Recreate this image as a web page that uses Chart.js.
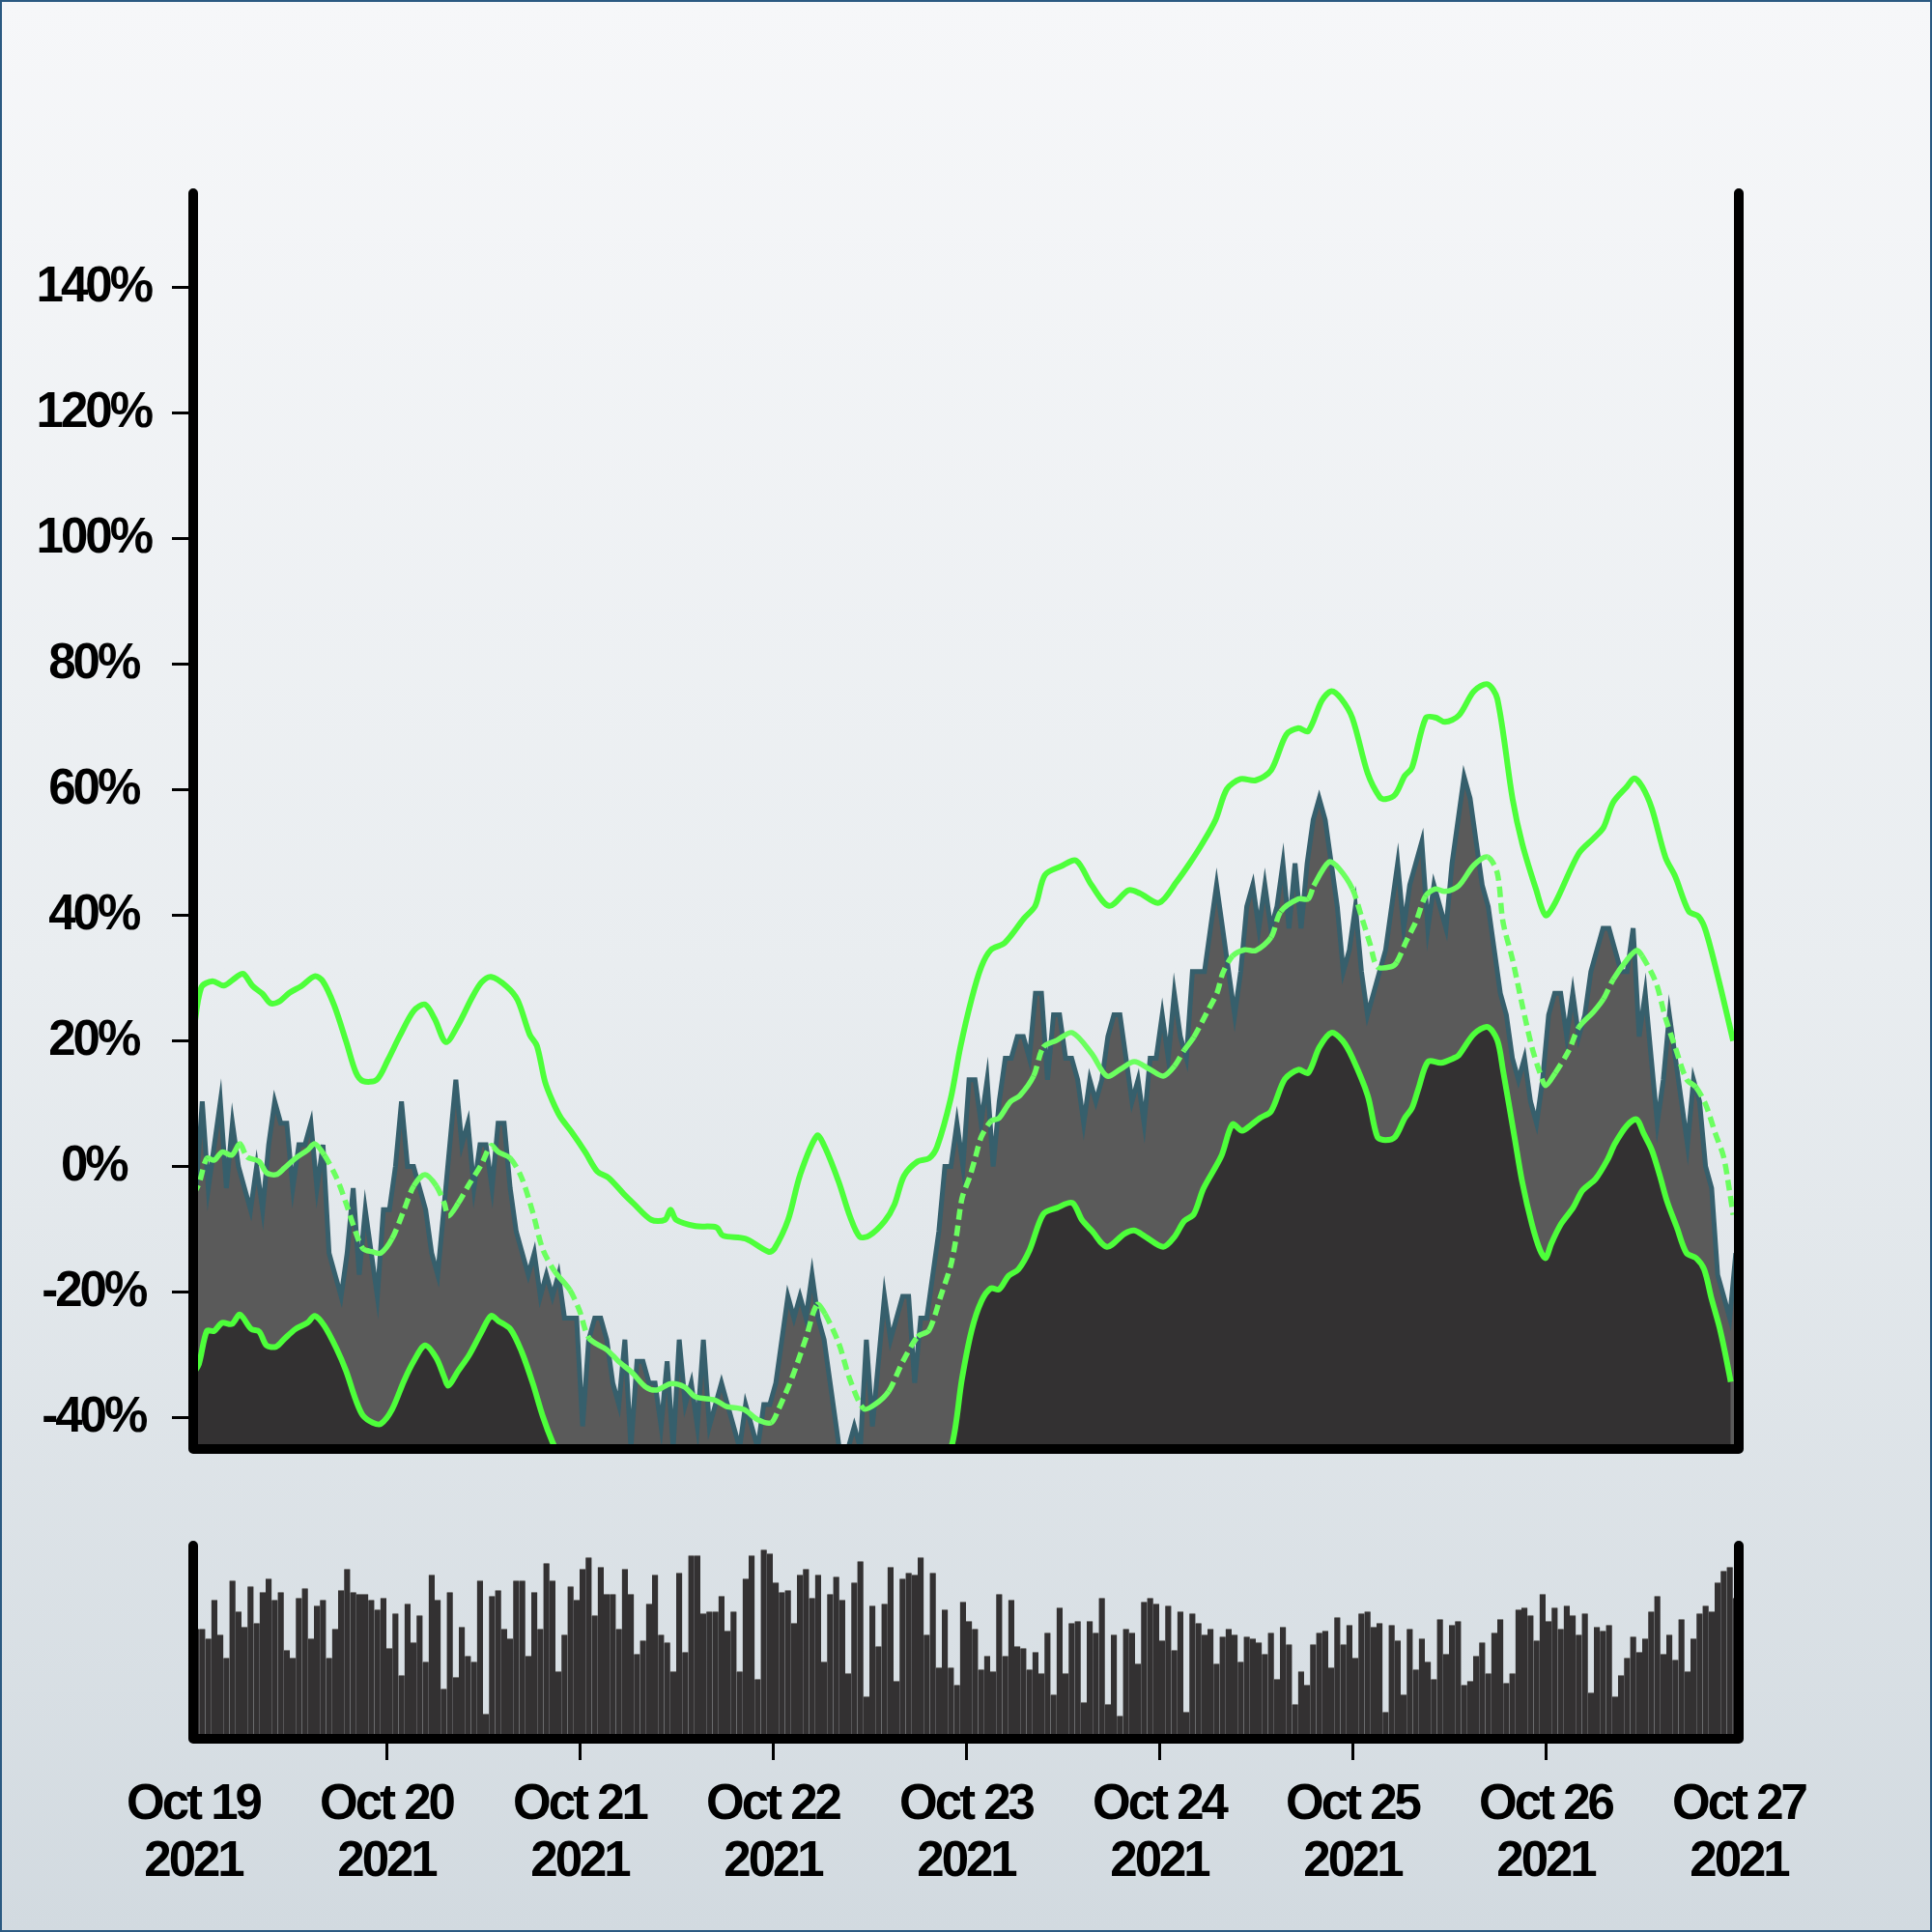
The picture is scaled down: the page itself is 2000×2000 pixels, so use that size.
<!DOCTYPE html>
<html>
<head>
<meta charset="utf-8">
<script src="https://cdn.jsdelivr.net/npm/chart.js@4/dist/chart.umd.min.js"></script>
<style>
  html, body { margin: 0; padding: 0; }
  #page { position: relative; width: 2000px; height: 2000px; overflow: hidden;
          background: linear-gradient(to bottom, #f6f7f9 0%, #e9edf0 50%, #d2dae0 100%); }
  #main { position: absolute; left: 0; top: 0; }
  #vol { position: absolute; left: 0; top: 1500px; }
  #edge { position: absolute; left: 0; top: 0; width: 2000px; height: 2000px; box-sizing: border-box;
          border: 2px solid #2b5a82; pointer-events: none; }
</style>
</head>
<body>
<div id="page">
  <canvas id="main" width="2000" height="1600"></canvas>
  <canvas id="vol" width="2000" height="500"></canvas>
  <div id="edge"></div>
</div>
<script>
// ---------- data ----------
const dayLabels = ['Oct 19','Oct 20','Oct 21','Oct 22','Oct 23','Oct 24','Oct 25','Oct 26','Oct 27'];
const yearLabels = ['2021','2021','2021','2021','2021','2021','2021','2021','2021'];
const dayTickHours = [0, 24, 48, 72, 96, 120, 144, 168, 192];
const yTickValues = [-40, -20, 0, 20, 40, 60, 80, 100, 120, 140];

// series sampled every 45 minutes from Oct 19 2021 00:00 (hours, cell centres)
const firstHour = 0.375;
const stepHours = 0.75;
const basePrice = 29;   // comparison base, values shown as % change

const price = [
  28,32,28,30,32,28,31,29,28,27,29,27,30,32,31,31,
  28,30,30,31,28,30,25,24,23,25,28,24,27,25,23,27,
  27,29,32,29,29,28,27,25,24,27,30,33,30,31,28,30,
  30,28,31,31,28,26,25,24,25,23,24,23,24,22,22,22,
  17,21,22,22,21,19,18,21,16,20,20,19,19,17,20,16,
  21,18,19,17,21,17,18,19,18,17,16,18,17,16,18,18,
  19,21,23,22,23,22,24,22,21,19,17,15,16,17,16,21,
  17,20,23,21,22,23,23,19,22,22,24,26,29,29,31,29,
  33,33,31,33,29,32,34,34,35,35,34,37,37,33,36,36,
  34,34,33,31,33,32,33,35,36,36,34,32,33,31,34,34,
  36,34,37,35,34,38,38,38,40,42,40,38,36,38,41,42,
  40,42,40,41,43,40,43,40,43,45,46,45,43,41,38,39,
  41,38,36,37,38,39,41,43,40,42,43,44,40,42,41,40,
  43,45,47,46,44,42,41,39,37,36,34,33,34,32,31,33,
  36,37,37,35,37,35,36,38,39,40,40,39,38,38,40,35,
  37,34,31,33,36,34,32,30,33,32,29,28,24,23,22,25
];

const volume = [
  57,57,52,72,54,42,82,66,58,79,60,76,83,72,76,46,
  42,73,78,52,69,72,42,57,77,88,76,75,75,72,67,73,
  47,65,33,70,50,64,40,85,72,26,76,32,58,43,40,82,
  13,74,77,57,52,82,82,43,76,57,91,82,35,54,79,72,
  88,94,64,89,75,75,57,88,75,44,51,70,85,54,50,35,
  86,45,95,95,65,66,66,74,56,66,35,83,95,31,98,96,
  81,76,77,60,85,88,73,85,40,75,84,72,34,81,92,22,
  69,48,70,89,30,83,86,85,94,54,86,37,67,37,28,71,
  61,57,36,43,35,75,43,72,48,47,36,45,34,55,23,68,
  34,60,61,19,61,55,73,18,54,12,57,55,39,71,73,70,
  51,69,46,66,14,65,60,54,57,39,53,57,54,40,53,52,
  50,44,55,31,58,49,18,35,28,49,55,56,37,63,49,59,
  42,65,66,58,60,14,59,51,23,57,36,52,40,31,62,44,
  59,61,28,30,43,50,34,55,62,29,34,67,68,64,51,75,
  61,68,57,69,64,54,65,24,58,56,59,22,33,42,53,45,
  52,66,74,44,54,41,62,35,52,65,69,66,81,87,89,73
];

// Bollinger bands, [hour, % value]
const upperBand = [
  [0,21.0],[1.0,28.5],[2.4,29.5],[3.8,28.8],[5.3,30.1],[6.2,30.7],[7.4,28.7],[8.6,27.5],[9.6,26.0],[10.6,26.2],
  [12.0,27.7],[13.4,28.7],[15.1,30.3],[16.1,29.5],[17.5,25.7],[19.0,19.9],[20.2,15.0],[21.1,13.6],[22.8,13.8],
  [24.2,17.0],[25.7,20.9],[27.4,24.8],[28.8,25.8],[30.0,23.5],[31.4,19.8],[32.9,22.5],[34.6,26.8],[35.8,29.3],
  [37.0,30.2],[38.9,28.7],[40.3,26.5],[41.8,21.0],[42.7,19.2],[43.7,13.5],[44.6,10.5],[45.6,7.9],[47.0,5.5],
  [48.7,2.3],[50.2,-0.8],[51.6,-1.8],[53.5,-4.4],[54.7,-5.9],[56.9,-8.5],[58.6,-8.5],[59.3,-6.9],[60.0,-8.5],
  [62.4,-9.5],[65.0,-9.7],[65.8,-11.0],[68.6,-11.5],[71.5,-13.6],[72.2,-13.1],[73.9,-8.5],[75.4,-1.3],[77.5,4.9],
  [78.5,3.0],[80.2,-2.5],[81.6,-8.0],[82.8,-11.2],[84.0,-11.0],[85.9,-8.7],[87.1,-6.1],[88.3,-1.5],[90.0,0.8],
  [91.4,1.3],[92.4,3.1],[94.1,10.8],[95.3,19.0],[96.7,26.7],[97.9,31.8],[99.1,34.5],[100.8,35.6],[103.2,39.5],
  [104.6,41.5],[105.8,46.4],[107.8,47.8],[109.7,48.7],[111.6,44.8],[113.8,41.5],[116.2,44.0],[117.6,43.5],
  [120.0,42.0],[122.2,45.4],[123.8,48.3],[125.3,51.3],[127.0,55.2],[128.4,60.1],[130.1,61.7],[132.0,61.5],
  [133.9,63.1],[135.8,68.8],[137.3,69.8],[138.5,69.3],[140.2,74.2],[141.4,75.7],[142.6,74.5],[144.0,71.4],
  [145.9,62.6],[147.4,58.8],[148.1,58.5],[149.3,59.2],[150.5,62.2],[151.4,63.5],[153.1,71.4],[154.3,71.5],
  [155.5,70.8],[157.2,71.8],[159.1,75.7],[160.8,76.8],[162.0,74.5],[163.9,58.5],[165.1,51.4],[166.8,44.2],
  [168.0,40.0],[169.2,42.0],[172.1,49.8],[174.0,52.3],[175.2,54.0],[176.4,58.0],[178.1,60.5],[179.0,61.8],
  [180.0,60.5],[181.2,57.0],[182.9,49.2],[184.1,46.2],[185.8,40.6],[187.0,39.8],[187.9,37.5],[189.6,29.2],
  [191.3,20.0]
];

const middleBand = [
  [0,-4.5],[0.7,-2.8],[1.7,1.3],[2.6,1.0],[3.6,2.3],[4.8,1.8],[5.8,3.6],[6.7,1.5],[8.2,0.8],[9.1,-1.0],
  [10.3,-1.3],[11.3,-0.3],[12.7,1.3],[14.2,2.6],[15.1,3.6],[16.3,1.8],[17.8,-1.8],[19.0,-5.9],[20.2,-10.5],
  [21.1,-13.1],[22.3,-13.6],[23.3,-13.8],[24.7,-11.5],[26.2,-6.9],[27.4,-3.1],[28.8,-1.3],[30.2,-3.1],
  [31.2,-5.9],[31.7,-7.9],[32.9,-5.9],[34.3,-2.8],[35.8,0.3],[37.0,3.3],[37.9,2.3],[39.4,1.3],[40.8,-1.8],
  [42.2,-7.4],[43.4,-13.1],[44.9,-16.7],[46.8,-19.7],[48.0,-23.0],[49.2,-27.4],[51.4,-29.2],[52.8,-31.0],
  [54.5,-32.8],[56.2,-35.1],[57.6,-35.6],[59.3,-34.6],[61.0,-35.1],[62.4,-36.7],[64.8,-37.2],[66.2,-38.2],
  [68.4,-38.7],[70.1,-40.3],[71.8,-40.8],[72.7,-38.7],[74.4,-33.6],[76.1,-27.4],[77.5,-22.0],[78.5,-23.5],
  [80.2,-28.2],[81.6,-34.0],[83.3,-38.6],[84.7,-37.9],[86.4,-35.8],[88.1,-31.2],[90.0,-27.1],[91.4,-26.1],
  [92.9,-20.5],[94.1,-15.8],[94.8,-11.2],[95.5,-5.1],[96.5,-1.5],[97.2,1.6],[97.9,4.7],[99.1,7.2],[100.1,7.7],
  [101.5,10.3],[102.7,11.3],[104.4,14.4],[105.6,19.0],[107.3,20.1],[109.2,21.3],[111.6,18.0],[113.5,14.4],
  [115.2,15.5],[116.9,16.7],[118.8,15.5],[120.5,14.4],[121.9,16.0],[123.1,18.5],[124.3,20.6],[126.0,24.7],
  [127.2,27.7],[127.9,30.8],[129.1,33.5],[130.6,34.5],[132.0,34.4],[133.9,36.5],[135.1,40.6],[137.3,42.6],
  [138.5,42.6],[139.2,44.7],[141.1,48.5],[142.3,47.5],[144.0,44.2],[145.2,39.5],[146.2,35.4],[147.1,31.8],
  [148.8,31.8],[149.5,32.5],[150.7,35.9],[151.9,39.0],[153.1,43.1],[154.3,44.2],[155.5,43.8],[157.2,44.7],
  [159.1,48.0],[160.8,49.3],[162.0,46.7],[162.7,39.0],[163.9,32.9],[165.1,25.7],[166.3,19.0],[167.3,14.9],
  [168.0,12.9],[169.2,14.9],[170.9,18.5],[172.1,22.1],[174.0,24.7],[175.2,26.7],[176.4,29.8],[178.1,32.9],
  [179.3,34.4],[180.0,33.5],[181.7,29.3],[182.9,23.6],[184.1,19.0],[185.5,13.9],[186.7,12.6],[187.9,9.8],
  [189.1,5.2],[190.1,1.6],[190.8,-3.5],[191.3,-7.7]
];

const lowerBand = [
  [0,-33.0],[0.7,-31.5],[1.7,-26.2],[2.6,-26.2],[3.6,-24.9],[4.8,-25.1],[5.8,-23.6],[7.2,-25.9],[8.2,-26.3],
  [9.1,-28.5],[10.3,-28.7],[11.3,-27.5],[12.7,-25.9],[14.2,-24.9],[15.1,-23.8],[16.3,-25.4],[17.8,-29.0],
  [19.0,-32.6],[20.2,-37.2],[21.1,-39.7],[22.3,-40.8],[23.3,-41.0],[24.7,-38.7],[26.2,-34.1],[27.4,-31.0],
  [28.8,-28.5],[30.2,-30.5],[31.2,-33.6],[31.7,-34.9],[32.9,-32.6],[34.3,-30.0],[35.8,-26.4],[37.0,-23.8],
  [37.9,-24.6],[39.4,-25.9],[40.8,-29.5],[42.2,-34.6],[43.4,-39.7],[44.6,-43.8],[46.0,-47.5],[48.0,-50.5],
  [52.8,-58.5],[57.6,-63.0],[64.8,-64.5],[71.8,-68.0],[77.5,-49.5],[83.3,-66.0],[90.0,-54.5],[92.0,-50.0],
  [94.2,-44.6],[95.5,-33.8],[96.7,-26.1],[97.9,-21.5],[99.1,-19.4],[100.1,-19.6],[101.3,-17.4],[102.5,-16.4],
  [103.9,-13.3],[105.6,-7.6],[107.3,-6.6],[109.2,-5.8],[110.4,-8.5],[111.6,-10.2],[113.5,-12.8],[115.7,-10.7],
  [116.9,-10.2],[118.3,-11.2],[120.5,-12.8],[121.9,-11.2],[123.1,-8.7],[124.3,-7.6],[125.5,-3.5],[127.7,1.6],
  [129.1,6.7],[130.3,5.7],[131.5,6.7],[132.5,7.7],[133.9,8.8],[135.6,13.9],[137.3,15.4],[138.5,14.9],
  [139.9,19.0],[141.4,21.3],[142.8,20.0],[144.0,17.3],[145.9,11.3],[147.1,4.7],[148.1,4.2],[149.3,4.7],
  [150.5,7.7],[151.4,9.3],[152.2,12.4],[153.4,16.7],[155.0,16.5],[156.5,17.2],[157.2,17.7],[159.1,21.1],
  [160.8,22.2],[162.0,20.1],[162.7,15.4],[164.2,4.2],[165.1,-2.5],[166.3,-9.2],[167.3,-13.3],[168.0,-14.6],
  [168.7,-12.3],[169.9,-9.2],[171.4,-6.6],[172.6,-3.8],[174.2,-2.0],[175.7,1.1],[176.6,3.6],[178.1,6.5],
  [179.3,7.5],[180.2,5.2],[181.2,2.6],[182.2,-1.5],[183.1,-5.6],[184.3,-9.7],[185.5,-13.8],[186.7,-14.6],
  [187.7,-16.4],[188.6,-21.0],[189.6,-25.6],[190.3,-29.7],[191.0,-34.3]
];

// ---------- build ----------
const hours = price.map((_, i) => firstHour + i * stepHours);
const pricePoints = price.map((p, i) => ({ x: hours[i], y: (p - basePrice) / basePrice * 100 }));
const volumePoints = volume.map((v, i) => ({ x: hours[i], y: v }));
const toPts = arr => arr.map(([h, v]) => ({ x: h, y: v }));

const FONT = { family: "'Liberation Sans', Arial, Helvetica, sans-serif", weight: 'bold', size: 51, lineHeight: 1.15 };
const BAND_GREEN = '#4dff3a';
const MID_GREEN = '#6bff5f';

const framePlugin = {
  id: 'frame',
  beforeDraw(chart) { chart.ctx.letterSpacing = '-3px'; },
  afterDraw(chart) {
    const { ctx, chartArea: a } = chart;
    ctx.save();
    ctx.strokeStyle = '#000';
    ctx.lineWidth = 10;
    ctx.lineCap = 'round';
    ctx.lineJoin = 'round';
    ctx.beginPath();
    ctx.moveTo(a.left, a.top);
    ctx.lineTo(a.left, a.bottom);
    ctx.lineTo(a.right, a.bottom);
    ctx.lineTo(a.right, a.top);
    ctx.stroke();
    ctx.restore();
  }
};

const common = {
  responsive: false,
  maintainAspectRatio: false,
  devicePixelRatio: 1,
  animation: false,
  events: [],
  plugins: { legend: { display: false }, tooltip: { enabled: false }, filler: { drawTime: 'beforeDatasetsDraw' } }
};

new Chart(document.getElementById('main'), {
  type: 'line',
  data: {
    datasets: [
      { data: pricePoints, borderColor: '#365f6c', borderWidth: 5, pointRadius: 0, tension: 0,
        borderJoinStyle: 'miter', fill: 'start', backgroundColor: '#5a5a5a', order: 10 },
      { data: toPts(lowerBand), borderColor: BAND_GREEN, borderWidth: 6, pointRadius: 0, tension: 0.3,
        fill: 'start', backgroundColor: '#333132', order: 3 },
      { data: toPts(middleBand), borderColor: MID_GREEN, borderWidth: 5.5, pointRadius: 0, tension: 0.3,
        fill: false, order: 2,
        segment: { borderDash: c => (Math.abs(c.p1.y - c.p0.y) > 1.6 * Math.abs(c.p1.x - c.p0.x) ? [11, 6] : undefined) } },
      { data: toPts(upperBand), borderColor: BAND_GREEN, borderWidth: 6, pointRadius: 0, tension: 0.3,
        fill: false, order: 1 }
    ]
  },
  options: Object.assign({}, common, {
    layout: { padding: { top: 200, right: 200, bottom: 100, left: 0 } },
    scales: {
      x: { type: 'linear', min: 0, max: 192, display: false },
      y: {
        type: 'linear', min: -45, max: 155,
        afterFit: s => { s.width = 200; },
        afterBuildTicks: s => { s.ticks = yTickValues.map(v => ({ value: v })); },
        border: { display: false },
        grid: { drawOnChartArea: false, drawTicks: true, tickLength: 22, tickWidth: 3, tickColor: '#000', color: '#000' },
        ticks: { color: '#000', font: FONT, padding: 16, crossAlign: 'center', callback: v => v + '%' }
      }
    }
  }),
  plugins: [framePlugin]
});

new Chart(document.getElementById('vol'), {
  type: 'bar',
  data: {
    datasets: [
      { data: volumePoints, backgroundColor: '#333132', borderColor: '#8c8c8c',
        borderWidth: { top: 1, left: 0, right: 0, bottom: 0 }, borderSkipped: false,
        barPercentage: 1, categoryPercentage: 1 }
    ]
  },
  options: Object.assign({}, common, {
    layout: { padding: { top: 100, right: 200, bottom: 0, left: 0 } },
    scales: {
      x: {
        type: 'linear', min: 0, max: 192, offset: false,
        afterFit: s => { s.height = 200; },
        afterBuildTicks: s => { s.ticks = dayTickHours.map(v => ({ value: v })); },
        border: { display: false },
        grid: { offset: false, drawOnChartArea: false, drawTicks: true, tickLength: 22, tickWidth: 3, color: '#000',
                tickColor: c => (c.index === 0 || c.index === dayTickHours.length - 1 ? 'rgba(0,0,0,0)' : '#000') },
        ticks: { color: '#000', font: FONT, padding: 18, autoSkip: false, maxRotation: 0,
                 callback: (v, i) => [dayLabels[i], yearLabels[i]] }
      },
      y: {
        type: 'linear', min: 0, max: 100,
        afterFit: s => { s.width = 200; },
        border: { display: false },
        grid: { display: false },
        ticks: { display: false }
      }
    }
  }),
  plugins: [framePlugin]
});
</script>
</body>
</html>
